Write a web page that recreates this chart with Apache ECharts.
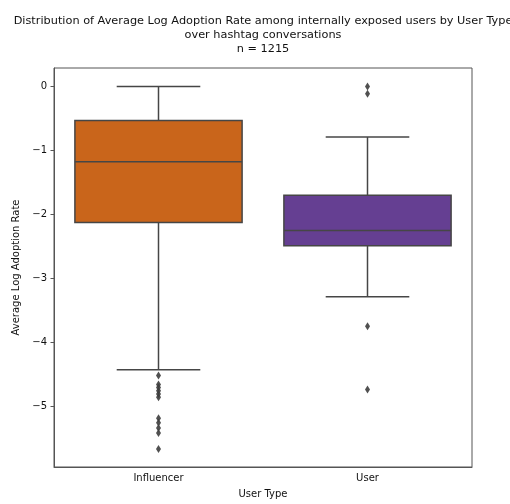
<!DOCTYPE html>
<html><head><meta charset="utf-8">
<script src="https://cdn.jsdelivr.net/npm/echarts@6/dist/echarts.min.js"></script>
<style>html,body{margin:0;padding:0;background:#fff;overflow:hidden}#c{width:510px;height:504px}</style>
</head><body><div id="c"></div>
<script>
const categories = ['Influencer', 'User'];
// [lower whisker, Q1, median, Q3, upper whisker]
const influencerBox = [-4.43, -2.125, -1.175, -0.53, 0.0];
const userBox = [-3.29, -2.49, -2.25, -1.70, -0.79];
const influencerOutliers = [-4.52, -4.66, -4.71, -4.76, -4.81, -4.86, -5.19, -5.26, -5.34, -5.42, -5.67];
const userOutliers = [0.0, -0.11, -3.75, -4.74];
const yTicks = [0, -1, -2, -3, -4, -5];
const boxColors = ['#c9651b', '#653f92'];

const font = 'DejaVu Sans';
const chart = echarts.init(document.getElementById('c'), null, {renderer: 'canvas', width: 510, height: 504});
const lineColor = '#464646';

function renderBox(params, api) {
  const idx = api.value(0);
  const lo = api.coord([idx, api.value(1)]);
  const q1 = api.coord([idx, api.value(2)]);
  const med = api.coord([idx, api.value(3)]);
  const q3 = api.coord([idx, api.value(4)]);
  const hi = api.coord([idx, api.value(5)]);
  const band = api.size([1, 0])[0];
  const w = band * 0.8;
  const cx = lo[0];
  const ls = {stroke: lineColor, lineWidth: 1.5};
  return {
    type: 'group',
    children: [
      {type: 'line', shape: {x1: cx, y1: q3[1], x2: cx, y2: hi[1]}, style: ls},
      {type: 'line', shape: {x1: cx, y1: q1[1], x2: cx, y2: lo[1]}, style: ls},
      {type: 'line', shape: {x1: cx - w / 4, y1: hi[1], x2: cx + w / 4, y2: hi[1]}, style: ls},
      {type: 'line', shape: {x1: cx - w / 4, y1: lo[1], x2: cx + w / 4, y2: lo[1]}, style: ls},
      {type: 'rect', shape: {x: cx - w / 2, y: q3[1], width: w, height: q1[1] - q3[1]},
        style: {fill: boxColors[idx], stroke: lineColor, lineWidth: 1.5}},
      {type: 'line', shape: {x1: cx - w / 2, y1: med[1], x2: cx + w / 2, y2: med[1]}, style: ls}
    ]
  };
}

chart.setOption({
  animation: false,
  title: {
    text: 'Distribution of Average Log Adoption Rate among internally exposed users by User Type\nover hashtag conversations\nn = 1215',
    left: 258, top: 9, textAlign: 'center',
    textStyle: {fontFamily: font, fontSize: 11.3, fontWeight: 'normal', color: '#111', lineHeight: 14}
  },
  grid: {left: 54, top: 68, width: 418, height: 407, show: true, borderColor: '#555', borderWidth: 1},
  xAxis: {
    type: 'category', data: categories, boundaryGap: true,
    name: 'User Type', nameLocation: 'middle', nameGap: 22,
    nameTextStyle: {fontFamily: font, fontSize: 10, color: '#111'},
    axisLine: {onZero: false, lineStyle: {color: '#555'}},
    axisTick: {alignWithLabel: true, length: 3.5, lineStyle: {color: '#555'}},
    axisLabel: {fontFamily: font, fontSize: 10, color: '#111', margin: 6},
    splitLine: {show: false}
  },
  yAxis: {
    type: 'value', min: -5.952, max: 0.291,
    name: 'Average Log Adoption Rate', nameLocation: 'middle', nameGap: 27,
    nameTextStyle: {fontFamily: font, fontSize: 10, color: '#111'},
    axisLine: {show: true, lineStyle: {color: '#555'}},
    axisTick: {show: true, length: 3.5, customValues: yTicks, lineStyle: {color: '#555'}},
    axisLabel: {fontFamily: font, fontSize: 10, color: '#111', margin: 7, customValues: yTicks,
      formatter: v => (v < 0 ? '\u2212' + Math.abs(v) : String(v))},
    splitLine: {show: false}
  },
  series: [
    {
      type: 'custom', renderItem: renderBox,
      encode: {x: 0, y: [1, 2, 3, 4, 5]},
      data: [[0].concat(influencerBox), [1].concat(userBox)],
      z: 2
    },
    {
      type: 'scatter', symbol: 'diamond', symbolSize: [5, 8],
      itemStyle: {color: '#3d3d3d', opacity: 0.9},
      data: influencerOutliers.map(v => [0, v]).concat(userOutliers.map(v => [1, v])),
      z: 3
    }
  ]
});
</script></body></html>
